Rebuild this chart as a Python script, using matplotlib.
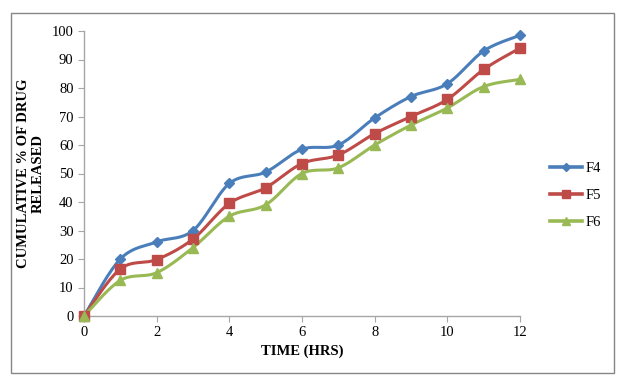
import numpy as np
import matplotlib
matplotlib.use("Agg")
import matplotlib.pyplot as plt
from matplotlib.patches import Rectangle
from matplotlib.lines import Line2D

time_hrs = [0, 1, 2, 3, 4, 5, 6, 7, 8, 9, 10, 11, 12]
f4 = [0, 20, 26, 30, 46.5, 50.5, 58.5, 60, 69.5, 77, 81.5, 93, 98.5]
f5 = [0, 16.5, 19.8, 27, 39.5, 45, 53.5, 56.5, 64, 70, 76, 86.5, 94]
f6 = [0, 12.5, 15.2, 24, 35, 39, 50, 52, 60, 67, 73, 80.5, 83]
series_names = ["F4", "F5", "F6"]
x_ticks = [0, 2, 4, 6, 8, 10, 12]
y_ticks = [0, 10, 20, 30, 40, 50, 60, 70, 80, 90, 100]

colors = ["#4A7EBB", "#BE4B48", "#98B954"]
markers = ["D", "s", "^"]
msizes = [5.5, 7, 7]
leg_msizes = [4, 6, 6]

plt.rcParams['font.family'] = ['Liberation Serif', 'DejaVu Serif']


def smooth(x, y, n=20):
    x = np.asarray(x, float)
    y = np.asarray(y, float)
    xs, ys = [], []
    m = len(x)
    for i in range(m - 1):
        p0 = np.array([x[max(i - 1, 0)], y[max(i - 1, 0)]])
        p1 = np.array([x[i], y[i]])
        p2 = np.array([x[i + 1], y[i + 1]])
        p3 = np.array([x[min(i + 2, m - 1)], y[min(i + 2, m - 1)]])
        c1 = p1 + (p2 - p0) / 6.0
        c2 = p2 - (p3 - p1) / 6.0
        t = np.linspace(0, 1, n)[:, None]
        pts = ((1 - t) ** 3) * p1 + 3 * ((1 - t) ** 2) * t * c1 + 3 * (1 - t) * t ** 2 * c2 + t ** 3 * p2
        if i > 0:
            pts = pts[1:]
        xs.extend(pts[:, 0])
        ys.extend(pts[:, 1])
    return np.array(xs), np.array(ys)


W, H = 624, 383
fig = plt.figure(figsize=(6.24, 3.83), dpi=100)
border = Rectangle((11 / W, 1 - 373 / H), (614 - 11) / W, (373 - 13) / H,
                   transform=fig.transFigure, fill=False, edgecolor="#868686", linewidth=1.0)
fig.patches.append(border)

ax = fig.add_axes([84 / W, 1 - 316 / H, (520 - 84) / W, (316 - 31) / H])

handles = []
for data, c, mk, ms, lms, name in zip([f4, f5, f6], colors, markers, msizes, leg_msizes, series_names):
    sx, sy = smooth(time_hrs, data)
    ax.plot(sx, sy, color=c, linewidth=2.2, solid_capstyle='round', zorder=2, clip_on=False)
    ax.plot(time_hrs, data, linestyle='none', marker=mk, markersize=ms, color=c, zorder=3, clip_on=False)
    handles.append(Line2D([], [], color=c, linewidth=2.6, marker=mk, markersize=lms, label=name))

ax.set_xlim(0, 12)
ax.set_ylim(0, 100)
ax.set_xticks(x_ticks)
ax.set_yticks(y_ticks)
for s in ["top", "right"]:
    ax.spines[s].set_visible(False)
for s in ["left", "bottom"]:
    ax.spines[s].set_color("#A6A6A6")
    ax.spines[s].set_linewidth(1.0)
ax.tick_params(axis='both', direction='out', length=4, color="#A6A6A6", labelsize=10.5, labelcolor="black")

ax.set_xlabel("TIME (HRS)", fontsize=10.5, fontweight='bold', labelpad=4)
ax.set_ylabel("CUMULATIVE % OF DRUG\nRELEASED", fontsize=10.5, fontweight='bold', labelpad=5, linespacing=1.15)

fig.legend(handles=handles, loc='upper left', bbox_to_anchor=(550 / W, 1 - 162 / H),
           frameon=False, fontsize=10.5, handlelength=2.2, labelspacing=0.95, handletextpad=0.25,
           borderaxespad=0, borderpad=0)

fig.savefig("out.png", dpi=100)
